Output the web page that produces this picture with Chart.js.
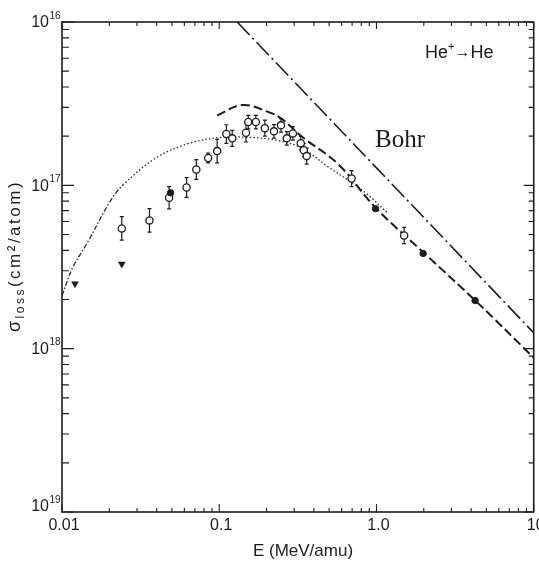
<!DOCTYPE html>
<html>
<head>
<meta charset="utf-8">
<script src="https://cdn.jsdelivr.net/npm/chart.js@4.4.0/dist/chart.umd.min.js"></script>
<style>
  html, body { margin: 0; padding: 0; background: #fff; }
  #chart { display: block; }
</style>
</head>
<body>
<canvas id="chart" width="539" height="564"></canvas>
<script>
// DATA: energy in MeV/amu, loss cross section in cm^2/atom

// open circles (with error bars, multiplicative error factor)
var OPEN_E = [0.024, 0.036, 0.048, 0.062, 0.0715, 0.085, 0.097, 0.111, 0.121, 0.148, 0.153,
  0.171, 0.195, 0.223, 0.247, 0.269, 0.294, 0.33, 0.345, 0.36, 0.695, 1.5];
var OPEN_SIGMA = [5.45e-18, 6.1e-18, 8.4e-18, 9.7e-18, 1.25e-17, 1.47e-17, 1.62e-17, 2.06e-17,
  1.94e-17, 2.1e-17, 2.44e-17, 2.44e-17, 2.24e-17, 2.14e-17, 2.33e-17, 1.94e-17, 2.08e-17,
  1.81e-17, 1.64e-17, 1.51e-17, 1.1e-17, 4.93e-18];
var OPEN_ERR = [1.18, 1.18, 1.17, 1.15, 1.15, 1.07, 1.18, 1.14, 1.12, 1.14, 1.1,
  1.1, 1.12, 1.1, 1.1, 1.1, 1.1, 1.1, 1.1, 1.12, 1.12, 1.12];

// filled circles
var FILLED_E = [0.049, 0.986, 1.98, 4.24];
var FILLED_SIGMA = [9.0e-18, 7.2e-18, 3.83e-18, 1.97e-18];

// filled triangles
var TRI_E = [0.0121, 0.024];
var TRI_SIGMA = [2.5e-18, 3.3e-18];

// Bohr estimate (long dash-dot)
var BOHR_E = [0.13, 1.0, 10];
var BOHR_SIGMA = [1.0e-16, 1.28e-17, 1.25e-18];

// dashed curve
var DASH_E = [0.097, 0.14, 0.207, 0.25, 0.335, 0.574, 0.986, 2.04, 4.42, 10];
var DASH_SIGMA = [2.68e-17, 3.1e-17, 2.8e-17, 2.55e-17, 1.99e-17, 1.34e-17, 7.3e-18,
  3.8e-18, 1.9e-18, 8.8e-19];

// dotted curve
var DOT_E = [0.01, 0.0117, 0.0144, 0.0201, 0.0243, 0.0399, 0.0646, 0.1045, 0.148, 0.23,
  0.335, 0.497, 0.695, 0.89, 1.19];
var DOT_SIGMA = [2.11e-18, 3.14e-18, 4.4e-18, 7.9e-18, 1.0e-17, 1.48e-17, 1.81e-17,
  1.97e-17, 1.97e-17, 1.89e-17, 1.69e-17, 1.29e-17, 1.04e-17, 8.7e-18, 6.7e-18];

// tick labels
var X_TICKS = [0.01, 0.1, 1, 10];
var X_TICK_LABELS = ['0.01', '0.1', '1.0', '10'];
var Y_TICKS = [1e-16, 1e-17, 1e-18, 1e-19];
var Y_TICK_EXP = ['16', '17', '18', '19'];

var INK = '#1c1c1c';
var FONT = "'Liberation Sans', Arial, sans-serif";

function pairs(xs, ys) {
  return xs.map(function (x, i) { return { x: x, y: ys[i] }; });
}

// ERROR BARS (drawn under the markers)
var errorBars = {
  id: 'errorBars',
  beforeDatasetsDraw: function (chart) {
    var ctx = chart.ctx;
    var xs = chart.scales.x, ys = chart.scales.y;
    ctx.save();
    ctx.strokeStyle = INK;
    ctx.lineWidth = 1.2;
    OPEN_E.forEach(function (e, i) {
      var px = xs.getPixelForValue(e);
      var y1 = ys.getPixelForValue(OPEN_SIGMA[i] * OPEN_ERR[i]);
      var y2 = ys.getPixelForValue(OPEN_SIGMA[i] / OPEN_ERR[i]);
      ctx.beginPath();
      ctx.moveTo(px, y1); ctx.lineTo(px, y2);
      ctx.moveTo(px - 2, y1); ctx.lineTo(px + 2, y1);
      ctx.moveTo(px - 2, y2); ctx.lineTo(px + 2, y2);
      ctx.stroke();
    });
    ctx.restore();
  }
};

// FRAME, INWARD TICKS AND LABELS
var frame = {
  id: 'frame',
  afterDraw: function (chart) {
    var ctx = chart.ctx, a = chart.chartArea;
    var xs = chart.scales.x, ys = chart.scales.y;
    var d, m, v, p, major, len;

    ctx.save();
    ctx.strokeStyle = INK;
    ctx.lineWidth = 1.6;
    ctx.strokeRect(a.left, a.top, a.right - a.left, a.bottom - a.top);

    ctx.lineWidth = 1.1;
    ctx.beginPath();
    for (d = -2; d <= 1; d++) {
      for (m = 1; m <= 9; m++) {
        if (d === 1 && m > 1) { break; }
        v = m * Math.pow(10, d);
        p = xs.getPixelForValue(v);
        major = m === 1;
        len = major ? 8 : 4;
        ctx.moveTo(p, a.bottom); ctx.lineTo(p, a.bottom - len);
        len = major ? 7 : 4;
        ctx.moveTo(p, a.top); ctx.lineTo(p, a.top + len);
      }
    }
    for (d = -19; d <= -16; d++) {
      for (m = 1; m <= 9; m++) {
        if (d === -16 && m > 1) { break; }
        v = m * Math.pow(10, d);
        p = ys.getPixelForValue(v);
        major = m === 1;
        len = major ? 12 : 7;
        ctx.moveTo(a.left, p); ctx.lineTo(a.left + len, p);
        len = major ? 10 : 5;
        ctx.moveTo(a.right, p); ctx.lineTo(a.right - len, p);
      }
    }
    ctx.stroke();

    ctx.fillStyle = INK;

    // y tick labels
    Y_TICKS.forEach(function (t, i) {
      var y = ys.getPixelForValue(t) + (i === Y_TICKS.length - 1 ? -5 : 1);
      ctx.font = '16px ' + FONT;
      ctx.textAlign = 'right';
      ctx.textBaseline = 'middle';
      ctx.fillText('10', 49, y);
      ctx.font = '10px ' + FONT;
      ctx.textAlign = 'left';
      ctx.fillText(Y_TICK_EXP[i], 49.5, y - 7);
    });

    // x tick labels
    ctx.font = '16px ' + FONT;
    ctx.textAlign = 'center';
    ctx.textBaseline = 'middle';
    X_TICKS.forEach(function (t, i) {
      ctx.fillText(X_TICK_LABELS[i], xs.getPixelForValue(t) + 2, 526);
    });

    // axis titles
    ctx.font = '17px ' + FONT;
    ctx.fillText('E (MeV/amu)', 303, 551);

    ctx.save();
    ctx.translate(15, 256);
    ctx.rotate(-Math.PI / 2);
    ctx.textAlign = 'left';
    ctx.textBaseline = 'alphabetic';
    ctx.letterSpacing = '2.5px';
    var parts = [
      { t: '\u03c3', f: '18px ', dy: 5 },
      { t: 'loss', f: '12px ', dy: 9 },
      { t: '(cm\u00b2/atom)', f: '17px ', dy: 5 }
    ];
    var total = 0;
    parts.forEach(function (q) { ctx.font = q.f + FONT; total += ctx.measureText(q.t).width; });
    var x = -total / 2;
    parts.forEach(function (q) {
      ctx.font = q.f + FONT;
      ctx.fillText(q.t, x, q.dy);
      x += ctx.measureText(q.t).width;
    });
    ctx.restore();

    // annotations
    ctx.textAlign = 'left';
    ctx.textBaseline = 'alphabetic';
    ctx.font = "25px 'Liberation Serif', 'Times New Roman', serif";
    ctx.fillText('Bohr', 375, 147);

    var hx = 425;
    ctx.font = '18px ' + FONT;
    ctx.fillText('He', hx, 58);
    hx += ctx.measureText('He').width;
    ctx.font = '11px ' + FONT;
    ctx.fillText('+', hx, 50);
    hx += ctx.measureText('+').width;
    ctx.font = '16px ' + FONT;
    ctx.fillText('\u2192', hx, 57);
    hx += ctx.measureText('\u2192').width;
    ctx.font = '18px ' + FONT;
    ctx.fillText('He', hx, 58);

    ctx.restore();
  }
};

var chart = new Chart(document.getElementById('chart'), {
  type: 'scatter',
  data: {
    datasets: [
      {
        data: pairs(TRI_E, TRI_SIGMA),
        pointStyle: 'triangle',
        rotation: 180,
        pointRadius: 4.5,
        backgroundColor: INK,
        borderColor: INK,
        borderWidth: 0
      },
      {
        data: pairs(FILLED_E, FILLED_SIGMA),
        pointRadius: 3.2,
        backgroundColor: INK,
        borderColor: INK,
        borderWidth: 1
      },
      {
        data: pairs(OPEN_E, OPEN_SIGMA),
        pointRadius: 3.6,
        backgroundColor: '#fff',
        borderColor: INK,
        borderWidth: 1.3
      },
      {
        data: pairs(DASH_E, DASH_SIGMA),
        showLine: true,
        pointRadius: 0,
        borderColor: INK,
        borderWidth: 2,
        borderDash: [9, 4],
        tension: 0.4
      },
      {
        data: pairs(DOT_E, DOT_SIGMA),
        showLine: true,
        pointRadius: 0,
        borderColor: '#2a2a2a',
        borderWidth: 1.3,
        tension: 0.35,
        segment: {
          borderDash: function (c) { return c.p0.parsed.x < 0.022 ? [5, 2, 1.5, 2] : [1.5, 2.2]; }
        }
      },
      {
        data: pairs(BOHR_E, BOHR_SIGMA),
        showLine: true,
        pointRadius: 0,
        borderColor: INK,
        borderWidth: 1.6,
        borderDash: [18, 4, 2, 4]
      }
    ]
  },
  options: {
    responsive: false,
    animation: false,
    devicePixelRatio: 1,
    layout: { padding: { left: 62, right: 2, top: 22, bottom: 52 } },
    plugins: { legend: { display: false }, tooltip: { enabled: false } },
    scales: {
      x: { type: 'logarithmic', min: 0.01, max: 10, display: false },
      y: { type: 'logarithmic', min: 1e-19, max: 1e-16, display: false }
    }
  },
  plugins: [errorBars, frame]
});
</script>
</body>
</html>
